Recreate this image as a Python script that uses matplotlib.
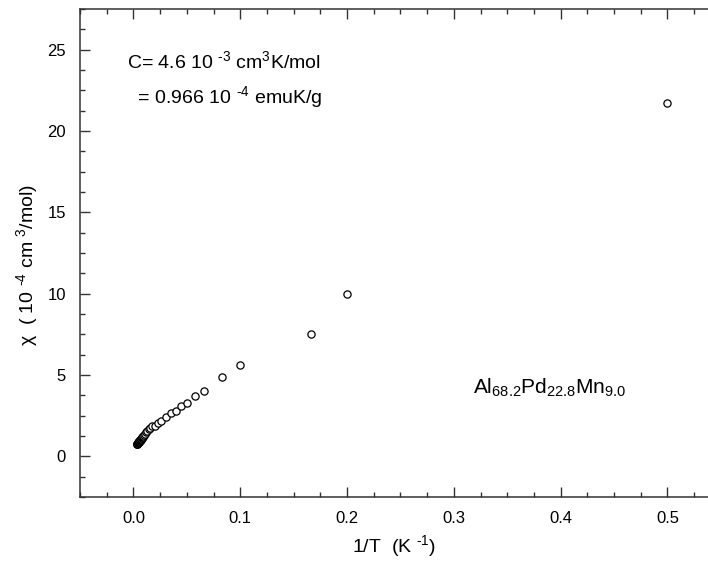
import numpy as np
from matplotlib import pyplot as plt
from matplotlib.ticker import MultipleLocator

plt.rcParams['font.family'] = ['Liberation Sans', 'DejaVu Sans']
plt.rcParams['mathtext.default'] = 'regular'

# 1/T (K^-1) and chi (10^-4 cm^3/mol)
invT = [0.0033, 0.0035, 0.0036, 0.0038, 0.0040, 0.0042, 0.0043, 0.0045,
        0.0047, 0.0049, 0.0051, 0.0053, 0.0056, 0.0058, 0.0061, 0.0064,
        0.0067, 0.0070, 0.0074, 0.0077, 0.0081, 0.0085, 0.0089, 0.0094,
        0.0098, 0.0108, 0.0119, 0.0131,
        0.0145, 0.0160, 0.0177, 0.0206, 0.0234, 0.0262, 0.0308, 0.0355,
        0.0400, 0.0450, 0.0500, 0.0580, 0.0660, 0.0830, 0.1000, 0.1667,
        0.2000, 0.5000]
chi = [0.74, 0.76, 0.77, 0.79, 0.80, 0.82, 0.83, 0.85,
       0.86, 0.88, 0.90, 0.92, 0.94, 0.96, 0.98, 1.01,
       1.03, 1.06, 1.09, 1.12, 1.15, 1.19, 1.22, 1.26,
       1.30, 1.38, 1.47, 1.56,
       1.66, 1.76, 1.86, 1.86, 2.03, 2.15, 2.40, 2.64,
       2.78, 3.07, 3.26, 3.69, 3.99, 4.87, 5.59, 7.55,
       10.0, 21.75]

HY = '\u2010'  # short hyphen, like the original's superscript minus

fig = plt.figure(figsize=(7.08, 5.69), dpi=100)
ax = fig.add_axes([0.113, 0.1265, 0.887, 0.8575])

ax.plot(invT, chi, 'o', mfc='white', mec='black', ms=5.2, mew=0.9)

ax.set_xlim(-0.05, 0.538)
ax.set_ylim(-2.5, 27.5)
ax.xaxis.set_major_locator(MultipleLocator(0.1))
ax.xaxis.set_minor_locator(MultipleLocator(0.025))
ax.yaxis.set_major_locator(MultipleLocator(5))
ax.yaxis.set_minor_locator(MultipleLocator(1.25))
ax.set_xticks(np.arange(0, 0.51, 0.1))
ax.set_xticklabels(['0.0', '0.1', '0.2', '0.3', '0.4', '0.5'])

ax.spines['right'].set_visible(False)
for s in ['left', 'bottom', 'top']:
    ax.spines[s].set_linewidth(1.1)
    ax.spines[s].set_color('#333333')
ax.tick_params(which='both', direction='in', top=True, right=False,
               color='#333333', labelsize=12)
ax.tick_params(which='major', length=7, width=1.0, pad=10)
ax.tick_params(which='minor', length=3.5, width=1.0)

ax.set_xlabel('1/T  (K $^{' + HY + '1}$)', fontsize=14, labelpad=5)
ax.set_ylabel('χ  ( 10 $^{' + HY + '4}$ cm $^3$/mol)', fontsize=14)
ax.yaxis.set_label_coords(-0.064, 0.475)

ax.text(-0.006, 24.3, 'C= 4.6 10 $^{' + HY + '3}$ cm$^3$K/mol', fontsize=14, va='center')
ax.text(-0.006, 22.1, '  = 0.966 10 $^{' + HY + '4}$ emuK/g', fontsize=14, va='center')
ax.text(0.318, 4.2, 'Al$_{68.2}$Pd$_{22.8}$Mn$_{9.0}$', fontsize=15, va='center')

plt.savefig('out.png', dpi=100)
